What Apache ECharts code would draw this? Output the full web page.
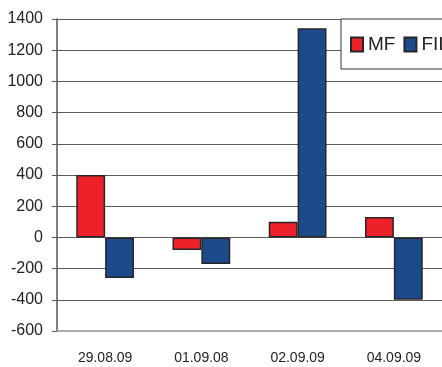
<!DOCTYPE html>
<html>
<head>
<meta charset="utf-8">
<script src="https://cdn.jsdelivr.net/npm/echarts@6/dist/echarts.min.js"></script>
<style>
  html, body { margin: 0; padding: 0; background: #fff; }
  #chart { width: 442px; height: 367px; }
</style>
</head>
<body>
<div id="chart"></div>
<script>
// Daily net flows by investor type
const dates = ['29.08.09', '01.09.08', '02.09.09', '04.09.09'];
const mfValues = [400, -80, 100, 130];
const fiiValues = [-260, -170, 1340, -400];
const yTicks = { min: -600, max: 1400, step: 200 };

const chart = echarts.init(document.getElementById('chart'));
const barBorder = { borderColor: '#262626', borderWidth: 1.5 };

chart.setOption({
  animation: false,
  backgroundColor: '#ffffff',
  legend: {
    orient: 'horizontal',
    left: 341,
    top: 19,
    width: 160,
    padding: [16, 12, 15, 9],
    icon: 'rect',
    itemWidth: 12,
    itemHeight: 14,
    itemGap: 8,
    backgroundColor: '#ffffff',
    borderColor: '#333333',
    borderWidth: 1,
    textStyle: { fontFamily: 'Liberation Sans, Arial, sans-serif', fontSize: 19, color: '#222' },
    data: ['MF', 'FII']
  },
  grid: { left: 57, top: 19, width: 391, bottom: 36, containLabel: false },
  xAxis: {
    type: 'category',
    data: dates,
    axisLine: { onZero: false, lineStyle: { color: '#aaaaaa', width: 2 } },
    axisTick: { show: false },
    axisLabel: {
      margin: 20,
      fontFamily: 'Liberation Sans, Arial, sans-serif',
      fontSize: 14,
      color: '#222'
    }
  },
  yAxis: {
    type: 'value',
    min: yTicks.min,
    max: yTicks.max,
    interval: yTicks.step,
    axisLine: { show: true, lineStyle: { color: '#555555', width: 1.5 } },
    axisTick: { show: true, length: 5, lineStyle: { color: '#555555' } },
    splitLine: { lineStyle: { color: '#5a5a5a', width: 1 } },
    axisLabel: {
      margin: 14,
      formatter: v => String(v),
      fontFamily: 'Liberation Sans, Arial, sans-serif',
      fontSize: 16,
      color: '#222'
    }
  },
  series: [
    {
      name: 'MF',
      type: 'bar',
      data: mfValues,
      barGap: '0%',
      barCategoryGap: '40%',
      itemStyle: Object.assign({ color: '#ec2129' }, barBorder)
    },
    {
      name: 'FII',
      type: 'bar',
      data: fiiValues,
      barGap: '0%',
      barCategoryGap: '40%',
      itemStyle: Object.assign({ color: '#1d4a8a' }, barBorder)
    }
  ]
});
</script>
</body>
</html>
